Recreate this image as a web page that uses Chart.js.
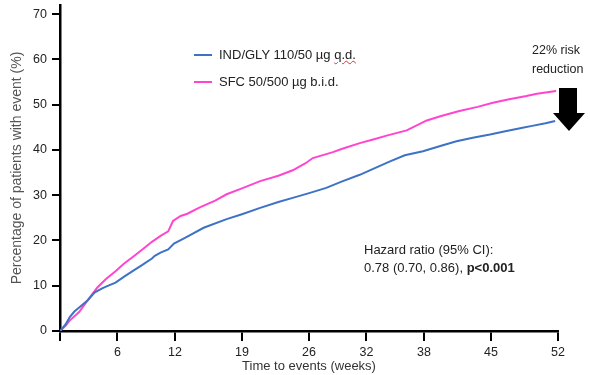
<!DOCTYPE html>
<html>
<head>
<meta charset="utf-8">
<script src="https://cdn.jsdelivr.net/npm/chart.js@4.4.1/dist/chart.umd.min.js"></script>
<style>
  body { margin: 0; background: #fff; }
  #wrap { position: relative; width: 590px; height: 375px; font-family: "Liberation Sans", Arial, sans-serif; color: #222; }
  canvas { position: absolute; left: 0; top: 0; }
  .txt { position: absolute; font-size: 13px; line-height: 18px; white-space: nowrap; }
  .swatch { position: absolute; width: 18px; height: 2px; }
  .squiggle { text-decoration: underline wavy #d33; text-decoration-thickness: 1px; }
</style>
</head>
<body>
<div id="wrap">
  <canvas id="kmChart" width="590" height="375"></canvas>

  <div class="swatch" style="left:194px;top:54px;background:#3d72c4"></div>
  <div class="txt" style="left:219px;top:46px">IND/GLY 110/50 µg <span class="squiggle">q.d.</span></div>
  <div class="swatch" style="left:194px;top:81px;background:#ff45cf"></div>
  <div class="txt" style="left:219px;top:73px">SFC 50/500 µg b.i.d.</div>

  <div class="txt" style="left:532px;top:41px;line-height:19px;font-size:12.5px">22% risk<br>reduction</div>
  <svg style="position:absolute;left:550px;top:85px" width="40" height="50">
    <polygon points="9,3 27,3 27,28 35,28 19,46 3,28 9,28" fill="#000"/>
  </svg>

  <div class="txt" style="left:364px;top:241px">Hazard ratio (95% CI):<br>0.78 (0.70, 0.86), <b>p&lt;0.001</b></div>
</div>

<script>
// time to event (weeks) and cumulative % with event
const weeksIND = [0, 0.6, 1.0, 1.5, 2.0, 2.9, 3.6, 4.4, 4.8, 5.8, 6.7, 7.7, 8.6, 9.6, 9.9, 10.5, 11.3, 11.9, 13.1, 15.0, 17.4, 19.0, 20.9, 22.8, 24.3, 26.1, 27.8, 29.4, 31.3, 32.7, 34.4, 36.0, 37.9, 39.8, 41.4, 43.1, 44.9, 46.5, 48.3, 49.3, 50.7, 51.7];
const valuesIND = [0, 1.5, 3.0, 4.3, 5.2, 6.8, 8.5, 9.4, 9.8, 10.7, 12.0, 13.4, 14.6, 16.0, 16.6, 17.3, 18.0, 19.3, 20.6, 22.8, 24.7, 25.8, 27.2, 28.5, 29.4, 30.5, 31.6, 33.0, 34.5, 35.8, 37.4, 38.8, 39.7, 40.9, 41.9, 42.7, 43.4, 44.1, 44.9, 45.3, 45.9, 46.4];

const weeksSFC = [0, 0.6, 1.0, 2.0, 2.9, 3.9, 4.8, 5.8, 6.7, 7.7, 8.6, 9.6, 10.5, 11.3, 11.8, 12.6, 13.3, 14.6, 16.2, 17.4, 19.0, 20.9, 22.8, 24.3, 25.6, 26.4, 28.5, 29.4, 31.3, 32.7, 34.2, 36.2, 38.3, 39.8, 41.7, 43.6, 45.2, 46.9, 48.7, 49.8, 51.8];
const valuesSFC = [0, 1.2, 2.3, 4.2, 6.8, 9.6, 11.5, 13.2, 14.9, 16.5, 18.0, 19.7, 21.0, 22.0, 24.3, 25.4, 25.9, 27.3, 28.8, 30.2, 31.5, 33.1, 34.3, 35.5, 37.0, 38.2, 39.5, 40.2, 41.5, 42.3, 43.2, 44.3, 46.5, 47.5, 48.6, 49.5, 50.4, 51.2, 51.9, 52.4, 53.0];

const xTicks = [0, 6, 12, 19, 26, 32, 38, 45, 52];
const yTicks = [0, 10, 20, 30, 40, 50, 60, 70];

const toPoints = (xs, ys) => xs.map((x, i) => ({ x: x, y: ys[i] }));

new Chart(document.getElementById('kmChart'), {
  type: 'line',
  data: {
    datasets: [
      {
        label: 'IND/GLY 110/50 µg q.d.',
        data: toPoints(weeksIND, valuesIND),
        borderColor: '#3d72c4',
        borderWidth: 2,
        pointRadius: 0,
        tension: 0
      },
      {
        label: 'SFC 50/500 µg b.i.d.',
        data: toPoints(weeksSFC, valuesSFC),
        borderColor: '#ff45cf',
        borderWidth: 2,
        pointRadius: 0,
        tension: 0
      }
    ]
  },
  options: {
    responsive: false,
    animation: false,
    layout: { padding: { left: 9, top: 5, right: 32, bottom: 0 } },
    plugins: {
      legend: { display: false },
      tooltip: { enabled: false }
    },
    scales: {
      x: {
        type: 'linear',
        min: 0,
        max: 52,
        afterBuildTicks: (scale) => { scale.ticks = xTicks.map(v => ({ value: v })); },
        afterFit: (scale) => { scale.height = 44; },
        border: { display: true, color: '#000', width: 2.5 },
        grid: { drawOnChartArea: false, drawTicks: true, tickLength: 10, color: '#000', lineWidth: 2 },
        ticks: {
          color: '#222',
          padding: 4,
          maxRotation: 0,
          font: { family: 'Liberation Sans', size: 12.5 },
          callback: (v) => (v === 0 ? '' : v)
        },
        title: {
          display: true,
          text: 'Time to events (weeks)',
          color: '#333',
          padding: { top: 0, bottom: 1 },
          font: { family: 'Liberation Sans', size: 13 }
        }
      },
      y: {
        min: 0,
        max: 72,
        afterBuildTicks: (scale) => { scale.ticks = yTicks.map(v => ({ value: v })); },
        afterFit: (scale) => {
          scale.width = 51;
          scale.paddingTop = 0;
          scale.paddingBottom = 0;
        },
        border: { display: true, color: '#000', width: 2.5 },
        grid: { drawOnChartArea: false, drawTicks: true, tickLength: 8, color: '#000', lineWidth: 2 },
        ticks: {
          color: '#222',
          padding: 5,
          font: { family: 'Liberation Sans', size: 12.5 }
        },
        title: {
          display: true,
          text: 'Percentage of patients with event (%)',
          color: '#555',
          padding: { top: 0, bottom: 2 },
          font: { family: 'Liberation Sans', size: 14 }
        }
      }
    }
  }
});
</script>
</body>
</html>
